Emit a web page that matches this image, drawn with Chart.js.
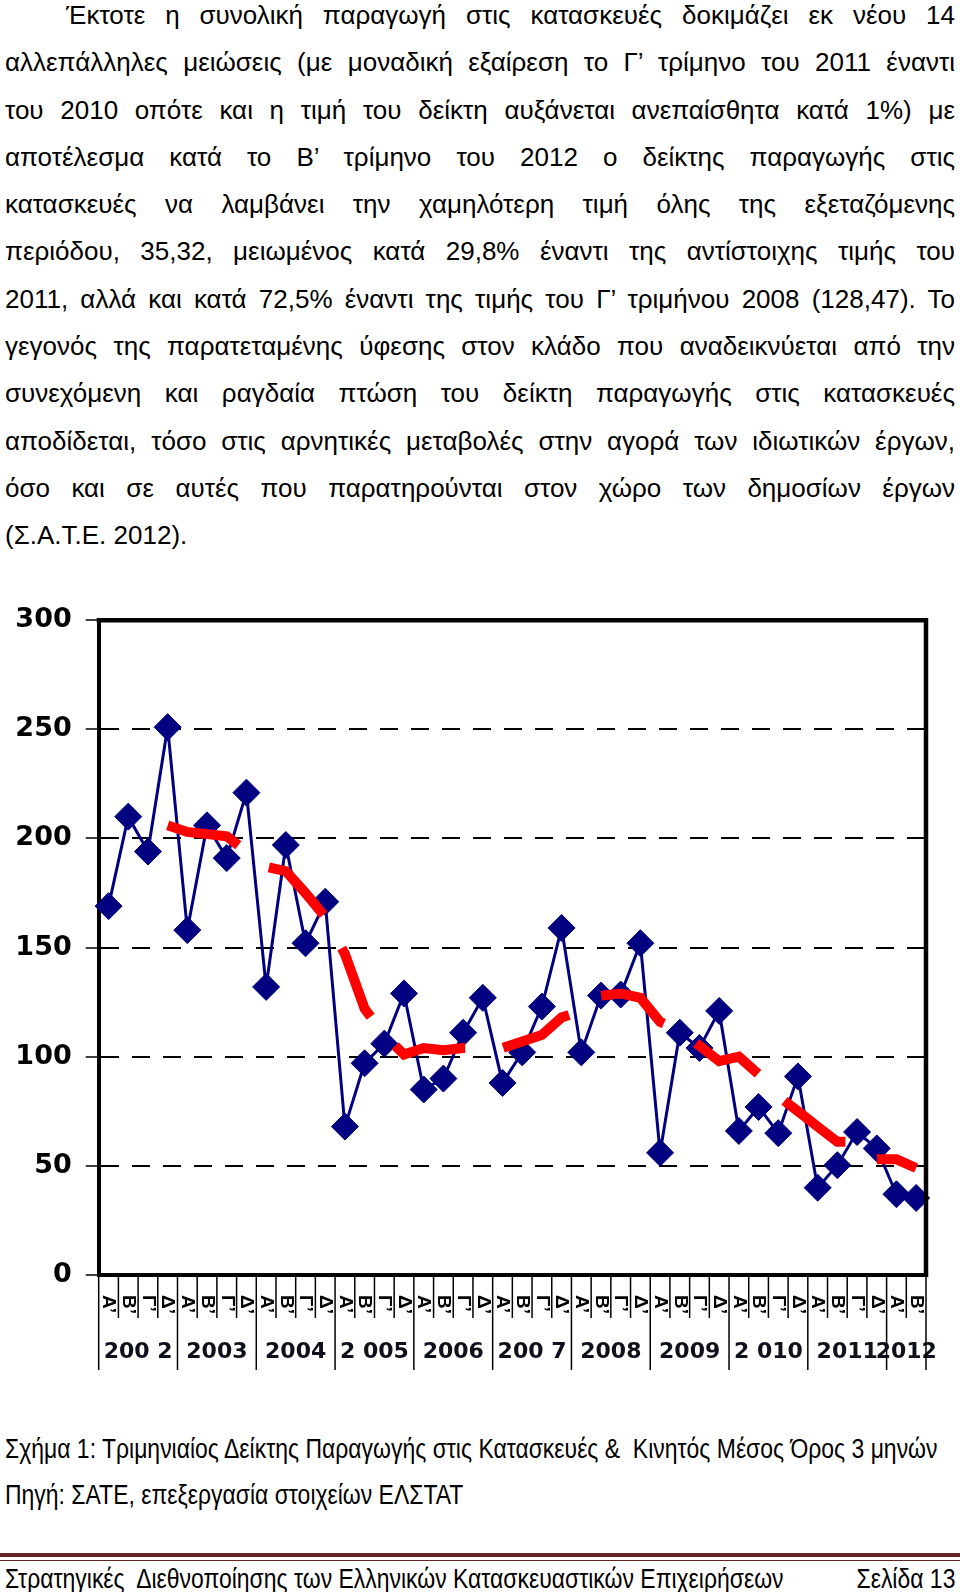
<!DOCTYPE html>
<html>
<head>
<meta charset="utf-8">
<script src="https://cdn.jsdelivr.net/npm/chart.js@4.4.0/dist/chart.umd.min.js"></script>
<style>
  body { margin: 0; background: #fff; }
  #page { position: relative; width: 960px; height: 1592px; overflow: hidden; font-family: "Liberation Sans", Arial, sans-serif; color: #000; }
  #text { position: absolute; left: 5px; top: -8px; width: 950px; font-size: 26px; line-height: 47.3px; }
  #text div { text-align: justify; text-align-last: justify; white-space: nowrap; }
  #text div.first { padding-left: 61px; }
  #text div.last { text-align-last: left; }
  #chartBox { position: absolute; left: 0; top: 590px; width: 960px; height: 790px; }
  .narrow { position: absolute; font-size: 27px; line-height: 30px; white-space: nowrap; transform: scaleX(0.85); }
  .left { left: 5px; transform-origin: 0 50%; }
  .right { right: 5px; transform-origin: 100% 50%; }
  #rule1 { position: absolute; left: 0; width: 960px; top: 1553px; height: 4px; background: #622423; }
  #rule2 { position: absolute; left: 0; width: 960px; top: 1560px; height: 1px; background: #622423; }
</style>
</head>
<body>
<div id="page">
  <div id="text">
    <div class="first">Έκτοτε η συνολική παραγωγή στις κατασκευές δοκιμάζει εκ νέου 14</div>
    <div>αλλεπάλληλες μειώσεις (με μοναδική εξαίρεση το Γ’ τρίμηνο του 2011 έναντι</div>
    <div>του 2010 οπότε και η τιμή του δείκτη αυξάνεται ανεπαίσθητα κατά 1%) με</div>
    <div>αποτέλεσμα κατά το Β’ τρίμηνο του 2012 ο δείκτης παραγωγής στις</div>
    <div>κατασκευές να λαμβάνει την χαμηλότερη τιμή όλης της εξεταζόμενης</div>
    <div>περιόδου, 35,32, μειωμένος κατά 29,8% έναντι της αντίστοιχης τιμής του</div>
    <div>2011, αλλά και κατά 72,5% έναντι της τιμής του Γ’ τριμήνου 2008 (128,47). Το</div>
    <div>γεγονός της παρατεταμένης ύφεσης στον κλάδο που αναδεικνύεται από την</div>
    <div>συνεχόμενη και ραγδαία πτώση του δείκτη παραγωγής στις κατασκευές</div>
    <div>αποδίδεται, τόσο στις αρνητικές μεταβολές στην αγορά των ιδιωτικών έργων,</div>
    <div>όσο και σε αυτές που παρατηρούνται στον χώρο των δημοσίων έργων</div>
    <div class="last">(Σ.Α.Τ.Ε. 2012).</div>
  </div>

  <div id="chartBox"><canvas id="chart"></canvas></div>

  <div class="narrow left" style="top:1434px">Σχήμα 1: Τριμηνιαίος Δείκτης Παραγωγής στις Κατασκευές &amp;&nbsp; Κινητός Μέσος Όρος 3 μηνών</div>
  <div class="narrow left" style="top:1480px">Πηγή: ΣΑΤΕ, επεξεργασία στοιχείων ΕΛΣΤΑΤ</div>
  <div id="rule1"></div>
  <div id="rule2"></div>
  <div class="narrow left" style="top:1564px">Στρατηγικές&nbsp; Διεθνοποίησης των Ελληνικών Κατασκευαστικών Επιχειρήσεων</div>
  <div class="narrow right" style="top:1564px">Σελίδα 13</div>
</div>

<script>
// τρίμηνα και έτη
const quarterNames = ['Α’', 'Β’', 'Γ’', 'Δ’'];
const years = ['200 2', '2003', '2004', '2 005', '2006', '200 7', '2008', '2009', '2 010', '2011', '2012'];
const quartersPerYear = [4, 4, 4, 4, 4, 4, 4, 4, 4, 4, 2];

// δείκτης παραγωγής στις κατασκευές (τριμηνιαίος)
const productionIndex = [
  169, 210, 194, 251,
  158, 206, 191, 221,
  132, 197, 152, 171,
  68, 97, 106, 129,
  85, 90, 111, 127,
  88, 102, 123, 159,
  102, 128, 128.5, 152,
  56, 111, 104, 121,
  66, 77, 65, 91,
  40, 50.3, 65.5, 58,
  37, 35.3
];

// κινητός μέσος όρος (κόκκινη διακεκομμένη)
const movingAverage = [
  null, null, null, 206,
  203, 202, 201, 194,
  187, 185, 175, 164,
  147, 122, 110, 101,
  104, 103, 104, 104,
  104, 107, 110, 118,
  121, 128, 129, 127,
  116, 112, 105, 98,
  100, 92, 82, 75,
  68, 61, 61, 53,
  53, 49
];

const yTicks = [0, 50, 100, 150, 200, 250, 300];

// ετικέτες κατηγοριών
const labels = [];
years.forEach((y, i) => {
  for (let q = 0; q < quartersPerYear[i]; q++) {
    labels.push(y + ' ' + quarterNames[q]);
  }
});

// άξονας Χ: γράμματα τριμήνων, έτη και διαχωριστικές γραμμές
const axisLabels = {
  id: 'axisLabels',
  afterDraw(chart) {
    const { ctx, chartArea, scales: { x } } = chart;
    const half = (x.getPixelForValue(1) - x.getPixelForValue(0)) / 2;
    const bottom = chartArea.bottom;
    ctx.save();
    ctx.strokeStyle = '#000';
    ctx.fillStyle = '#000';
    ctx.lineWidth = 1.5;

    let start = 0;
    years.forEach((yr, i) => {
      const n = quartersPerYear[i];
      for (let q = 0; q < n; q++) {
        const cx = x.getPixelForValue(start + q);
        ctx.beginPath();
        ctx.moveTo(cx - half, bottom);
        ctx.lineTo(cx - half, bottom + (q === 0 ? 95 : 43));
        ctx.stroke();

        ctx.save();
        ctx.translate(cx, bottom + 20);
        ctx.rotate(Math.PI / 2);
        ctx.font = 'bold 19px "Liberation Sans"';
        ctx.textAlign = 'left';
        ctx.textBaseline = 'middle';
        ctx.fillText(quarterNames[q], 0, 0);
        ctx.restore();
      }
      const c = (x.getPixelForValue(start) + x.getPixelForValue(start + n - 1)) / 2;
      ctx.font = 'bold 22px "DejaVu Sans"';
      ctx.textAlign = 'center';
      ctx.textBaseline = 'middle';
      ctx.fillStyle = '#10101a';
      ctx.fillText(yr, c, bottom + 77);
      ctx.fillStyle = '#000';
      start += n;
    });
    const endX = x.getPixelForValue(start - 1) + half;
    ctx.beginPath();
    ctx.moveTo(endX, bottom);
    ctx.lineTo(endX, bottom + 95);
    ctx.stroke();

    // πλαίσιο πάνω και δεξιά
    ctx.lineWidth = 4.5;
    ctx.beginPath();
    ctx.moveTo(chartArea.left - 2, chartArea.top);
    ctx.lineTo(chartArea.right, chartArea.top);
    ctx.lineTo(chartArea.right, chartArea.bottom + 2);
    ctx.stroke();
    ctx.restore();
  }
};

const ctx = document.getElementById('chart').getContext('2d');
new Chart(ctx, {
  type: 'line',
  data: {
    labels: labels,
    datasets: [
      {
        label: 'Κινητός Μέσος Όρος',
        data: movingAverage,
        borderColor: '#ff0000',
        borderWidth: 10,
        borderDash: [75, 38],
        borderCapStyle: 'butt',
        pointRadius: 0,
        tension: 0,
        fill: false,
        order: 0
      },
      {
        label: 'Δείκτης Παραγωγής',
        data: productionIndex,
        borderColor: '#000080',
        backgroundColor: '#000080',
        borderWidth: 3,
        pointStyle: 'rectRot',
        pointRadius: 13.5,
        pointBorderWidth: 1,
        pointBackgroundColor: '#000080',
        pointBorderColor: '#000080',
        tension: 0,
        fill: false,
        order: 1
      }
    ]
  },
  options: {
    responsive: true,
    maintainAspectRatio: false,
    animation: false,
    layout: { padding: { top: 30, right: 34, bottom: 0, left: 0 } },
    plugins: {
      legend: { display: false },
      tooltip: { enabled: false }
    },
    scales: {
      x: {
        offset: true,
        afterFit: s => { s.height = 105; },
        ticks: { display: false },
        grid: { display: false },
        border: { display: true, color: '#000', width: 4 }
      },
      y: {
        min: 0,
        max: 300,
        afterBuildTicks: s => { s.ticks = yTicks.map(v => ({ value: v })); },
        afterFit: s => { s.width = 98.7; },
        ticks: {
          color: '#000',
          padding: 14,
          font: { family: 'DejaVu Sans', size: 27, weight: 'bold' }
        },
        grid: { color: '#000', lineWidth: 2, tickLength: 13, tickColor: '#000', tickWidth: 1.5 },
        border: { display: true, color: '#000', width: 4, dash: [18, 13] }
      }
    }
  },
  plugins: [axisLabels]
});
</script>
</body>
</html>
